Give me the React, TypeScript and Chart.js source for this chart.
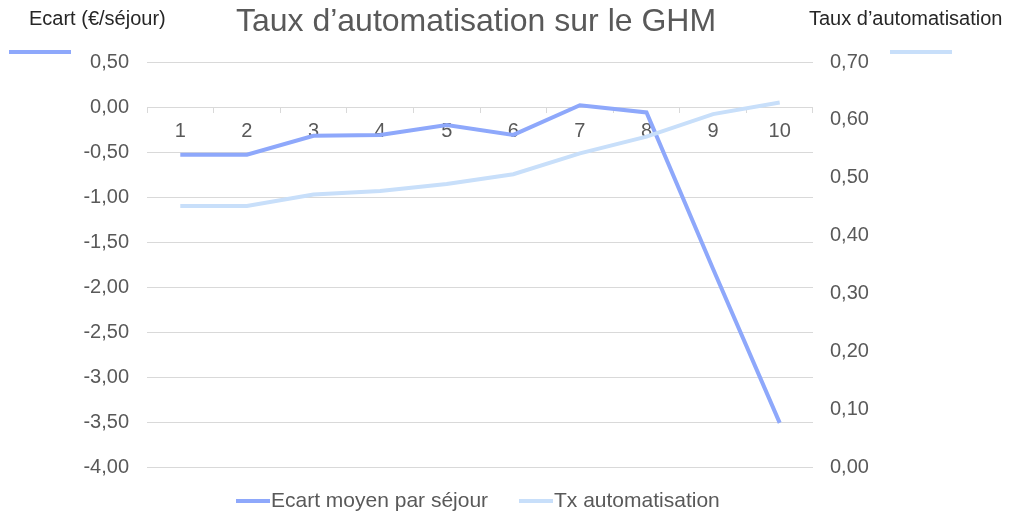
import React, { useEffect, useRef } from "react";
import { Chart, registerables } from "chart.js";

Chart.register(...registerables);

const categories = ["1", "2", "3", "4", "5", "6", "7", "8", "9", "10"];
const ecartMoyen = [-0.53, -0.53, -0.32, -0.31, -0.2, -0.31, 0.02, -0.06, -1.8, -3.51];
const txAutomatisation = [0.451, 0.451, 0.471, 0.477, 0.489, 0.506, 0.542, 0.571, 0.61, 0.63];

const titleText = "Taux d\u2019automatisation sur le GHM";
const leftAxisTitle = "Ecart (\u20ac/s\u00e9jour)";
const rightAxisTitle = "Taux d\u2019automatisation";
const seriesNames = ["Ecart moyen par s\u00e9jour", "Tx automatisation"];

const COLOR_ECART = "#8EA8FB";
const COLOR_TX = "#C8DFFA";
const FONT = "'Liberation Sans', Arial, sans-serif";
const GRID = "#D9D9D9";
const TEXT = "#595959";

const fmt = (v: number) => {
  const n = Math.abs(v) < 1e-9 ? 0 : v;
  return n.toFixed(2).replace(".", ",");
};

const decorPlugin = {
  id: "decor",
  afterDraw(chart: any) {
    const ctx = chart.ctx;
    ctx.save();
    // Title
    ctx.fillStyle = TEXT;
    ctx.font = `32px ${FONT}`;
    ctx.textAlign = "center";
    ctx.textBaseline = "middle";
    ctx.fillText(titleText, 476, 22);
    // Axis titles
    ctx.fillStyle = "#262626";
    ctx.font = `20px ${FONT}`;
    ctx.textAlign = "left";
    ctx.fillText(leftAxisTitle, 29, 19);
    ctx.fillText(rightAxisTitle, 809, 19);
    // Axis line samples
    ctx.lineWidth = 4;
    ctx.strokeStyle = COLOR_ECART;
    ctx.beginPath();
    ctx.moveTo(9, 52);
    ctx.lineTo(71, 52);
    ctx.stroke();
    ctx.strokeStyle = COLOR_TX;
    ctx.beginPath();
    ctx.moveTo(890, 52);
    ctx.lineTo(952, 52);
    ctx.stroke();
    // Legend
    const items = [
      { x: 236, color: COLOR_ECART, text: seriesNames[0] },
      { x: 519, color: COLOR_TX, text: seriesNames[1] },
    ];
    ctx.font = `21px ${FONT}`;
    ctx.fillStyle = TEXT;
    items.forEach((it) => {
      ctx.strokeStyle = it.color;
      ctx.lineWidth = 4;
      ctx.beginPath();
      ctx.moveTo(it.x, 501);
      ctx.lineTo(it.x + 34, 501);
      ctx.stroke();
      ctx.fillText(it.text, it.x + 35, 501);
    });
    ctx.restore();
  },
};

export default function App() {
  const ref = useRef<HTMLCanvasElement>(null);
  useEffect(() => {
    if (!ref.current) return;
    const chart = new Chart(ref.current, {
      type: "line",
      data: {
        labels: categories,
        datasets: [
          {
            label: seriesNames[0],
            data: ecartMoyen,
            yAxisID: "y",
            borderColor: COLOR_ECART,
            backgroundColor: COLOR_ECART,
            borderWidth: 4,
            pointRadius: 0,
            tension: 0,
            order: 1,
          },
          {
            label: seriesNames[1],
            data: txAutomatisation,
            yAxisID: "y1",
            borderColor: COLOR_TX,
            backgroundColor: COLOR_TX,
            borderWidth: 4,
            pointRadius: 0,
            tension: 0,
            order: 0,
          },
        ],
      },
      options: {
        responsive: false,
        animation: false,
        devicePixelRatio: 1,
        layout: { padding: { top: 62, bottom: 47, left: 0, right: 0 } },
        plugins: {
          legend: { display: false },
          title: { display: false },
          tooltip: { enabled: false },
        },
        scales: {
          x: {
            type: "category",
            position: { y: 0 } as any,
            offset: true,
            grid: {
              drawOnChartArea: false,
              drawTicks: true,
              tickLength: 6,
              color: GRID,
              offset: true,
            },
            border: { display: false },
            ticks: {
              color: TEXT,
              font: { size: 20, family: FONT },
              padding: 6,
              maxRotation: 0,
              autoSkip: false,
            },
          },
          y: {
            position: "left",
            min: -4,
            max: 0.5,
            grid: { color: GRID, drawTicks: false },
            border: { display: false },
            ticks: {
              stepSize: 0.5,
              color: TEXT,
              font: { size: 20, family: FONT },
              padding: 18,
              callback: (v: any) => fmt(Number(v)),
            },
            afterFit: (s: any) => {
              s.width = 147;
            },
          },
          y1: {
            position: "right",
            min: 0,
            max: 0.7,
            grid: { drawOnChartArea: false, drawTicks: false },
            border: { display: false },
            ticks: {
              stepSize: 0.1,
              color: TEXT,
              font: { size: 20, family: FONT },
              padding: 17,
              callback: (v: any) => fmt(Number(v)),
            },
            afterFit: (s: any) => {
              s.width = 198;
            },
          },
        },
      },
      plugins: [decorPlugin],
    });
    return () => chart.destroy();
  }, []);
  return (
    <div style={{ position: "absolute", left: 0, top: 0, width: 1011, height: 514, background: "#fff" }}>
      <canvas ref={ref} width={1011} height={514} style={{ width: 1011, height: 514, display: "block" }} />
    </div>
  );
}
